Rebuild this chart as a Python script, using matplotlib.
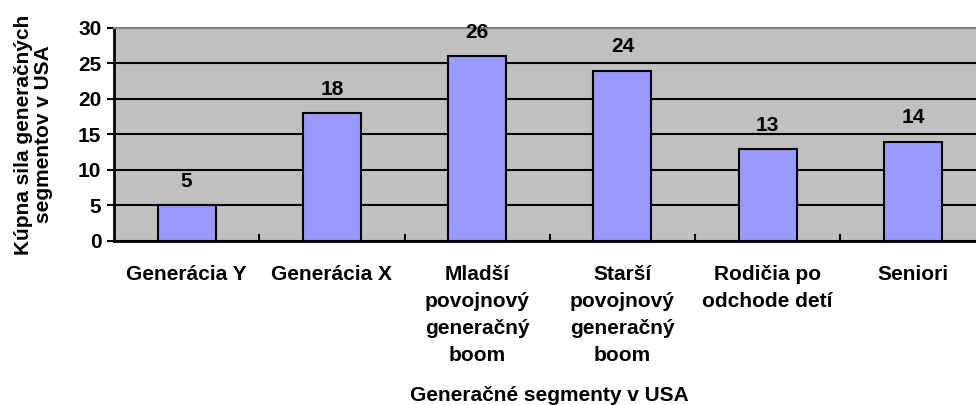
import numpy as np
import matplotlib.pyplot as plt

plt.rcParams['font.family'] = ['Liberation Sans', 'DejaVu Sans']
plt.rcParams['font.weight'] = 'bold'

categories = ["Generácia Y", "Generácia X", "Mladší\npovojnový\ngeneračný\nboom",
              "Starší\npovojnový\ngeneračný\nboom", "Rodičia po\nodchode detí", "Seniori"]
values = [5, 18, 26, 24, 13, 14]
y_ticks = [0, 5, 10, 15, 20, 25, 30]

fig = plt.figure(figsize=(9.76, 4.05), dpi=100)
ax = fig.add_axes([0.1168, 0.405, 0.893, 0.526])
ax.set_facecolor('#C0C0C0')

x = np.arange(len(categories))
ax.set_axisbelow(True)
ax.yaxis.grid(True, color='black', linewidth=1.5)
bars = ax.bar(x, values, width=0.4, color='#9999FF', edgecolor='black', linewidth=1.5)

for xi, v in zip(x, values):
    ax.annotate(str(v), (xi, v), xytext=(0, 17), textcoords='offset points',
                ha='center', va='center', fontsize=15, fontweight='bold')

ax.set_xlim(-0.5, len(categories) - 0.5)
ax.set_ylim(0, 30)
ax.set_yticks(y_ticks)
ax.set_xticks(x)
ax.set_xticklabels(categories, fontsize=15, fontweight='bold', linespacing=1.55, va='top')
ax.tick_params(axis='x', length=0, pad=17)
ax.set_xticks(np.arange(1, len(categories)) - 0.5, minor=True)
ax.tick_params(axis='x', which='minor', direction='in', length=5, width=1.5)
ax.tick_params(axis='y', labelsize=15, length=5, width=1.5, pad=4)
for lab in ax.get_yticklabels():
    lab.set_fontweight('bold')

for s in ['left', 'bottom']:
    ax.spines[s].set_linewidth(2)
ax.spines['top'].set_color('#808080')
ax.spines['top'].set_linewidth(1.5)
ax.spines['right'].set_visible(False)

ax.set_ylabel("Kúpna sila generačných\nsegmentov v USA", fontsize=15, fontweight='bold',
              labelpad=18, linespacing=1.1)
ax.set_xlabel("Generačné segmenty v USA", fontsize=15, fontweight='bold', labelpad=15)

fig.savefig('out.png', dpi=100)
